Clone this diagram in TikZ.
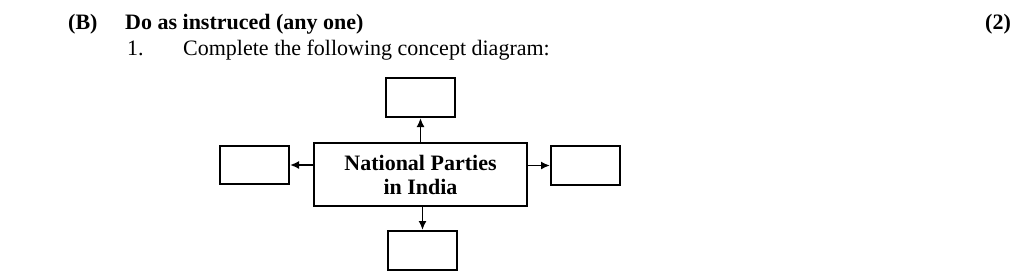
\documentclass[tikz,border=0pt]{standalone}
\usepackage{fontspec}
\setmainfont{Liberation Serif}
\usetikzlibrary{arrows.meta}
\begin{document}
\begin{tikzpicture}[x=1pt,y=-1pt,
  box/.style={draw,line width=2pt,inner sep=0pt},
  conn/.style={line width=1.7pt,-{Latex[length=9pt,width=8pt]}},
  txt/.style={inner sep=0pt,anchor=base west},
  hd/.style={txt,font=\fontsize{22}{24}\selectfont\bfseries},
  rg/.style={txt,font=\fontsize{22}{24}\selectfont}]
\useasboundingbox[fill=white] (0,0) rectangle (1024,279);
\node[hd] (b) at (68,29) {(B)};
\node[hd] (h) at (125,29) {Do as instruced (any one)};
\node[hd] (m) at (985,29) {(2)};
\node[rg] (n) at (127,55) {1.};
\node[rg] (q) at (183,55) {Complete the following concept diagram:};
\node[box,minimum width=213pt,minimum height=63pt,align=center,font=\fontsize{22}{24}\selectfont\bfseries] (c) at (420.5,174.5) {National Parties\\in India};
\node[box,minimum width=69pt,minimum height=39pt] (t) at (420.5,97.5) {};
\node[box,minimum width=69pt,minimum height=38pt] (l) at (254.5,165) {};
\node[box,minimum width=69pt,minimum height=39pt] (r) at (585.5,165.5) {};
\node[box,minimum width=69pt,minimum height=39pt] (d) at (422.5,250.5) {};
\draw[conn] (c.north -| t.south) -- (t.south);
\draw[conn] (c.south -| d.north) -- (d.north);
\draw[conn] (l.east -| c.west) -- (l.east);
\draw[conn] (r.west -| c.east) -- (r.west);
\end{tikzpicture}
\end{document}
